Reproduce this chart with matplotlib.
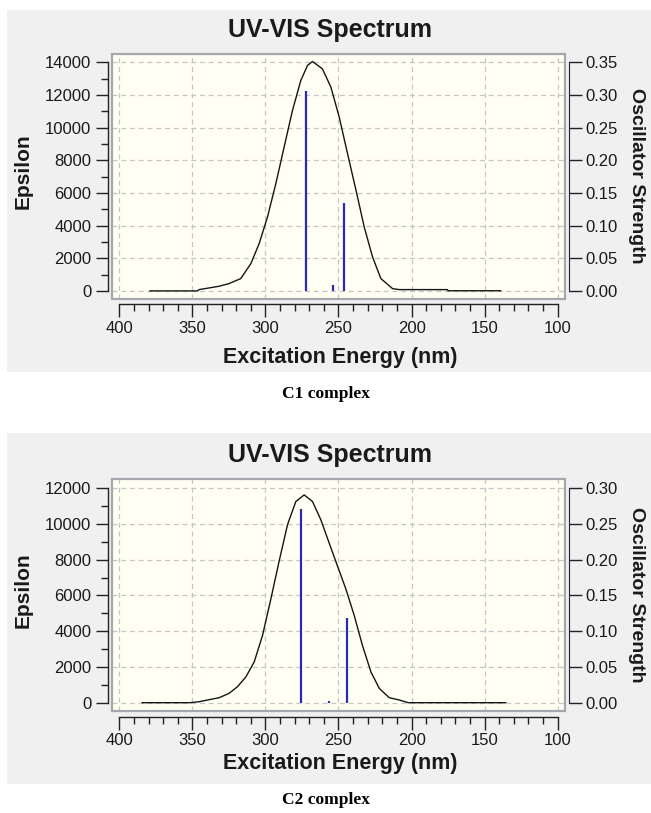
import numpy as np
import matplotlib
matplotlib.use("Agg")
import matplotlib.pyplot as plt
from matplotlib.patches import Rectangle
from matplotlib.ticker import FormatStrFormatter

plt.rcParams['font.family'] = ['Liberation Sans', 'DejaVu Sans']

# C1 complex - broadened spectrum (nm, epsilon)
c1_wl = [379, 346.5, 345.4, 331.7, 324.9, 316.9, 310, 304.3, 298.6, 292.9, 287.2,
         281.5, 275.8, 271.2, 267.8, 261, 255.2, 249.5, 243.8, 238, 232.4, 226.7,
         221, 213, 208.4, 175.5, 175, 139]
c1_eps = [0, 0, 80, 285, 450, 755, 1670, 2900, 4530, 6570, 8820,
          11060, 12900, 13820, 14060, 13610, 12490, 10650, 8410, 6160, 3920, 2080,
          755, 140, 80, 80, 10, 10]
# C1 transitions (nm, oscillator strength)
c1_stick_wl = [272.4, 253.8, 246.3]
c1_stick_f = [0.306, 0.0087, 0.135]

# C2 complex
c2_wl = [384.3, 351.6, 345.4, 331.7, 324.9, 319.2, 313.4, 307.7, 302, 296.3, 290.6,
         284.9, 279.2, 273.5, 267.8, 262.1, 256.4, 250.7, 244.9, 239.2, 233.6, 227.8,
         222.1, 215.3, 208.4, 202.3, 135.6]
c2_eps = [0, 0, 55, 280, 520, 890, 1440, 2280, 3760, 5800, 7930,
          9960, 11260, 11630, 11260, 10240, 8940, 7650, 6350, 4870, 3200, 1720,
          800, 280, 150, 0, 0]
c2_stick_wl = [275.8, 256.8, 244.2]
c2_stick_f = [0.271, 0.003, 0.119]

W, H = 651, 813
fig = plt.figure(figsize=(W / 100, H / 100), dpi=100)
fig.patch.set_facecolor('white')

TXT = '#1a1a1a'


def fx(px):
    return px / W


def fy(py):
    return 1 - py / H


def draw_panel(top, bottom, bg_top, bg_bot, wl, eps, s_wl, s_f, ymax, caption,
               title_y, xlabel_y, cap_y):
    # gray window background
    fig.patches.append(Rectangle((fx(7), fy(bg_bot)), 1, (bg_bot - bg_top) / H,
                                 transform=fig.transFigure, facecolor='#f0f0f0',
                                 edgecolor='none', zorder=-10))
    ax = fig.add_axes([fx(112), fy(bottom), fx(565) - fx(112), (bottom - top) / H])
    ax.set_facecolor('#fffff4')
    ax.set_xlim(405, 95)
    ax.set_ylim(-465, ymax + 520)
    ax.plot(wl, eps, color='#151515', lw=1.0, zorder=3)

    # box around the plot area
    ax.add_patch(Rectangle((0, 0), 1, 1, transform=ax.transAxes, fill=False,
                           edgecolor='#a4a8ae', lw=1.6, clip_on=False, zorder=6))

    for s in ['top', 'right']:
        ax.spines[s].set_visible(False)
    ax.spines['left'].set_position(('outward', 3))
    ax.spines['left'].set_bounds(0, ymax)
    ax.spines['bottom'].set_position(('outward', 4))
    ax.spines['bottom'].set_bounds(100, 400)
    for s in ['left', 'bottom']:
        ax.spines[s].set_color('#222222')
        ax.spines[s].set_linewidth(1.0)

    ax.set_xticks(np.arange(100, 401, 50))
    ax.set_yticks(np.arange(0, ymax + 1, 2000))
    ax.set_xticks(np.arange(100, 401, 10), minor=True)
    ax.set_yticks(np.arange(0, ymax + 1, 1000), minor=True)
    ax.tick_params(which='major', length=9, width=1, color='#222222',
                   labelsize=12, labelcolor=TXT, pad=3)
    ax.tick_params(which='minor', length=5, width=1, color='#222222')
    ax.grid(True, which='major', linestyle=(0, (4, 3)), color='#c6c6c6', lw=0.9)
    ax.set_axisbelow(True)

    ax2 = ax.twinx()
    ax2.set_ylim(ax.get_ylim()[0] / 40000, ax.get_ylim()[1] / 40000)
    ax2.vlines(s_wl, 0, s_f, color='#2a2ab8', lw=1.6, zorder=4)
    for s in ['top', 'left', 'bottom']:
        ax2.spines[s].set_visible(False)
    ax2.spines['right'].set_position(('outward', 3))
    ax2.spines['right'].set_bounds(0, ymax / 40000)
    ax2.spines['right'].set_color('#222222')
    ax2.set_yticks(np.arange(0, ymax / 40000 + 1e-9, 0.05))
    ax2.yaxis.set_major_formatter(FormatStrFormatter('%.2f'))
    ax2.tick_params(axis='y', length=9, width=1, color='#222222', labelsize=12,
                    labelcolor=TXT, pad=3)

    mid = (top + bottom) / 2
    fig.text(fx(330), fy(title_y), 'UV-VIS Spectrum', ha='center', va='center',
             fontsize=18, fontweight='bold', color=TXT)
    fig.text(fx(23), fy(mid - 5), 'Epsilon', ha='center', va='center', rotation=90,
             fontsize=15, fontweight='bold', color=TXT)
    fig.text(fx(636), fy(mid), 'Oscillator Strength', ha='center', va='center',
             rotation=270, fontsize=14, fontweight='bold', color=TXT)
    fig.text(fx(340), fy(xlabel_y), 'Excitation Energy (nm)', ha='center',
             va='center', fontsize=15.5, fontweight='bold', color=TXT)
    fig.text(fx(326), fy(cap_y), caption, ha='center', va='center', fontsize=12.5,
             fontweight='bold', family=['Liberation Serif', 'DejaVu Serif'],
             color='black')


draw_panel(54, 298.5, 10, 372, c1_wl, c1_eps, c1_stick_wl, c1_stick_f, 14000,
           'C1 complex', 30, 357, 394)
draw_panel(479, 711, 433, 784, c2_wl, c2_eps, c2_stick_wl, c2_stick_f, 12000,
           'C2 complex', 455, 763, 800)

fig.savefig('out.png', dpi=100)
